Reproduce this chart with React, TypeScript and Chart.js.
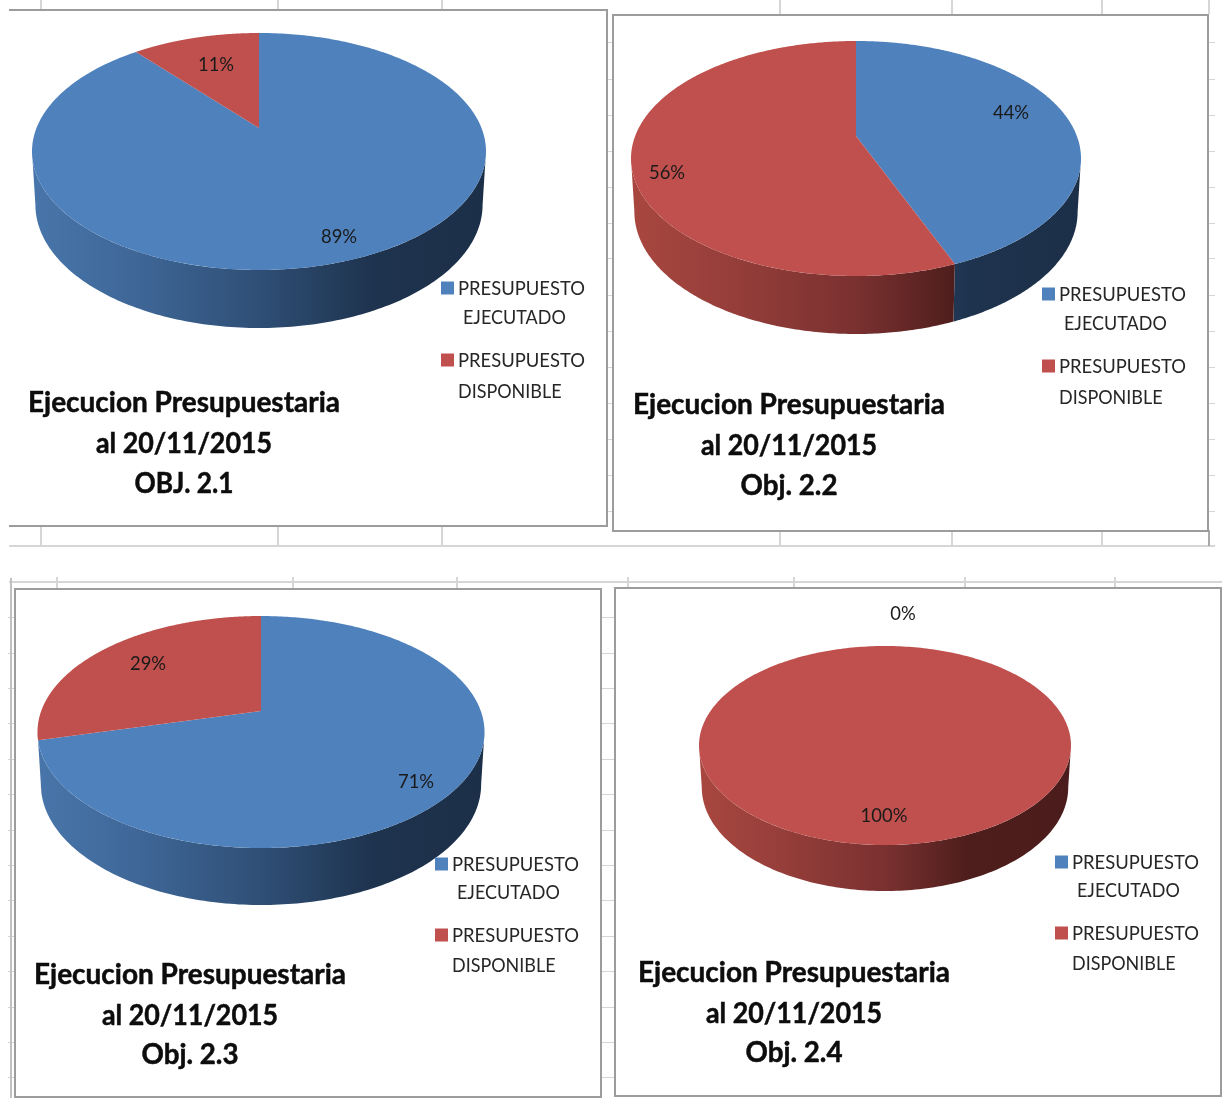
import { useEffect, useRef } from "react";
import { Chart, registerables } from "chart.js";

Chart.register(...registerables);

// Budget series: executed share, then available share
const categories = [
  ["PRESUPUESTO", "EJECUTADO"],
  ["PRESUPUESTO", "DISPONIBLE"],
];
const obj21 = [89, 11];
const obj22 = [44, 56];
const obj23 = [71, 29];
const obj24 = [0, 100];

const titleObj21 = ["Ejecucion Presupuestaria", "al 20/11/2015", "OBJ. 2.1"];
const titleObj22 = ["Ejecucion Presupuestaria", "al 20/11/2015", "Obj. 2.2"];
const titleObj23 = ["Ejecucion Presupuestaria", "al 20/11/2015", "Obj. 2.3"];
const titleObj24 = ["Ejecucion Presupuestaria", "al 20/11/2015", "Obj. 2.4"];

const BLUE = "#4f81bd";
const RED = "#c0504d";
const BLUE_WALL: [number, string][] = [[0, "#4875aa"], [0.2, "#40699a"], [0.5, "#2f4f76"], [0.75, "#1e334e"], [1, "#1c2f48"]];
const RED_WALL: [number, string][] = [[0, "#a8473f"], [0.2, "#983f3b"], [0.5, "#7a3130"], [0.72, "#4e1e1c"], [1, "#4a1c1b"]];

// Layout of one sheet panel, in page pixels
type Panel = {
  box: { left: number; top: number; width: number; height: number; openLeft?: boolean };
  values: number[];
  title: string[];
  apex: [number, number];
  topY: number;
  bottomY: number;
  half: number;
  wallBottom: number;
  labelAt: [number, number][];
  titleAt: [number, number[]];
  titleWidths: number[];
  legendX: number;
  legendRows: [number, number, number, number];
};

const panels: Panel[] = [
  {
    box: { left: 9, top: 9, width: 599, height: 518, openLeft: true },
    values: obj21, title: titleObj21,
    apex: [259, 128], topY: 33, bottomY: 270, half: 227, wallBottom: 328,
    labelAt: [[339, 236], [216, 64]],
    titleAt: [184, [402, 443, 483]],
    titleWidths: [312, 176, 99],
    legendX: 441, legendRows: [288, 317, 360, 391],
  },
  {
    box: { left: 612, top: 14, width: 597, height: 518 },
    values: obj22, title: titleObj22,
    apex: [856, 136], topY: 41, bottomY: 276, half: 225, wallBottom: 334,
    labelAt: [[1011, 112], [667, 172]],
    titleAt: [789, [404, 445, 485]],
    titleWidths: [312, 176, 97],
    legendX: 1042, legendRows: [294, 323, 366, 397],
  },
  {
    box: { left: 14, top: 588, width: 588, height: 510 },
    values: obj23, title: titleObj23,
    apex: [261, 711], topY: 616, bottomY: 848, half: 223.5, wallBottom: 905,
    labelAt: [[416, 781], [148, 663]],
    titleAt: [190, [974, 1015, 1054]],
    titleWidths: [312, 176, 97],
    legendX: 435, legendRows: [864, 892, 935, 965],
  },
  {
    box: { left: 614, top: 587, width: 608, height: 510 },
    values: obj24, title: titleObj24,
    apex: [885, 726], topY: 646, bottomY: 845, half: 186, wallBottom: 891,
    labelAt: [[903, 613], [884, 815]],
    titleAt: [794, [972, 1013, 1052]],
    titleWidths: [312, 176, 97],
    legendX: 1055, legendRows: [862, 890, 933, 963],
  },
];

// Spreadsheet cell lines showing around the panels
const colTicksUpper = [40, 277, 441, 779, 951, 1101];
const colTicksLower = [56, 292, 456, 627, 793, 964, 1114];
const rowsUpper = [42, 79, 115, 151, 187, 223, 258, 295, 331, 367, 403, 439, 475, 511];
const rowsLower = [617, 653, 688, 723, 759, 794, 830, 865, 900, 936, 971, 1007, 1042, 1077];

const GRID = "#d6d6d6";
const GRID_DARK = "#a8a8a8";

type Seg = [number, number, number, number, string];
const gridSegments: Seg[] = [
  [9, 545, 1206, 2, GRID],
  [9, 581, 1213, 2, GRID],
  ...colTicksUpper.map((x): Seg => [x, 0, 2, 14, GRID]),
  ...colTicksUpper.map((x): Seg => [x, 526, 2, 20, GRID]),
  ...colTicksLower.map((x): Seg => [x, 577, 2, 11, GRID]),
  ...rowsUpper.map((y): Seg => [607, y, 6, 1, GRID]),
  ...rowsUpper.map((y): Seg => [1209, y, 6, 1, GRID]),
  ...rowsLower.map((y): Seg => [8, y, 6, 1, GRID]),
  ...rowsLower.map((y): Seg => [601, y, 14, 1, GRID]),
  [1208, 0, 2, 14, GRID],
  [1208, 530, 2, 16, GRID_DARK],
  [10, 578, 2, 520, "#c0c0c0"],
];

// Perspective projection of the unit disc onto the slanted pie top
function makeProjection(p: Panel) {
  const [ax, ay] = p.apex;
  const dt = ay - p.topY;
  const db = p.bottomY - ay;
  const k = (db - dt) / (db + dt);
  const s = dt * (1 + k);
  const r = p.half * Math.sqrt(1 - k * k);
  const mx = 0.985;
  const my = 1.04;
  const drop = p.wallBottom - ay - my * db;
  const top = (t: number): [number, number] => {
    const u = Math.cos(t);
    const v = Math.sin(t);
    const w = 1 - k * v;
    return [ax + (r * u) / w, ay + (s * v) / w];
  };
  const bottom = (t: number): [number, number] => {
    const u = Math.cos(t);
    const v = Math.sin(t);
    const w = 1 - k * v;
    return [ax + (mx * r * u) / w, ay + drop + (my * s * v) / w];
  };
  return { k, top, bottom };
}

function fittedText(ctx: CanvasRenderingContext2D, text: string, x: number, y: number, sx: number, align: CanvasTextAlign, heavy = 0) {
  ctx.save();
  ctx.translate(x, y + 1);
  ctx.scale(sx, 1);
  ctx.textAlign = align;
  ctx.textBaseline = "middle";
  ctx.fillText(text, 0, 0);
  if (heavy > 0) {
    ctx.lineWidth = heavy;
    ctx.strokeStyle = ctx.fillStyle;
    ctx.strokeText(text, 0, 0);
  }
  ctx.restore();
}

// Draws the slanted pie, its rim, the labels, the legend and the heading from the arc elements
const solidPie = {
  id: "solidPie",
  beforeDatasetsDraw(chart: any, _args: any, opts: any) {
    const p: Panel = opts.panel;
    const ctx: CanvasRenderingContext2D = chart.ctx;
    const meta = chart.getDatasetMeta(0);
    const proj = makeProjection(p);
    const colors: string[] = chart.data.datasets[0].backgroundColor;
    const steps = 160;
    const frontFrom = Math.asin(proj.k);
    const frontTo = Math.PI - frontFrom;

    ctx.save();
    ctx.translate(-p.box.left, -p.box.top);

    // Rim, only along the front of the pie
    meta.data.forEach((arc: any, i: number) => {
      if (arc.circumference <= 0) return;
      const lo = Math.max(arc.startAngle, frontFrom);
      const hi = Math.min(arc.endAngle, frontTo);
      if (hi <= lo) return;
      const grad = ctx.createLinearGradient(p.apex[0] - p.half, 0, p.apex[0] + p.half, 0);
      (colors[i] === BLUE ? BLUE_WALL : RED_WALL).forEach(([o, c]) => grad.addColorStop(o, c));
      ctx.beginPath();
      for (let n = 0; n <= steps; n++) {
        const [x, y] = proj.top(lo + ((hi - lo) * n) / steps);
        if (n === 0) ctx.moveTo(x, y);
        else ctx.lineTo(x, y);
      }
      for (let n = steps; n >= 0; n--) {
        const [x, y] = proj.bottom(lo + ((hi - lo) * n) / steps);
        ctx.lineTo(x, y);
      }
      ctx.closePath();
      ctx.fillStyle = grad;
      ctx.fill();
    });

    // Top face of every slice
    meta.data.forEach((arc: any, i: number) => {
      if (arc.circumference <= 0) return;
      ctx.beginPath();
      if (arc.circumference < Math.PI * 2 - 1e-6) ctx.moveTo(p.apex[0], p.apex[1]);
      for (let n = 0; n <= steps * 2; n++) {
        const [x, y] = proj.top(arc.startAngle + (arc.circumference * n) / (steps * 2));
        ctx.lineTo(x, y);
      }
      ctx.closePath();
      ctx.fillStyle = colors[i];
      ctx.fill();
    });

    // Percentage labels
    const values: number[] = chart.data.datasets[0].data;
    const total = values.reduce((a, b) => a + b, 0);
    ctx.fillStyle = "#1a1a1a";
    ctx.font = "400 20px Lato";
    values.forEach((v, i) => {
      const [x, y] = p.labelAt[i];
      fittedText(ctx, `${Math.round((v / total) * 100)}%`, x, y, 0.92, "center");
    });

    // Legend
    const lx = p.legendX;
    const textX = lx + 17;
    const labels: string[][] = chart.data.labels;
    ctx.font = "400 19px Lato";
    const legendScale = 127 / ctx.measureText("PRESUPUESTO").width;
    labels.forEach((lines, i) => {
      const rowA = p.legendRows[i * 2];
      const rowB = p.legendRows[i * 2 + 1];
      ctx.fillStyle = colors[i];
      ctx.fillRect(lx, rowA - 6.5, 13, 13);
      ctx.fillStyle = "#262626";
      fittedText(ctx, lines[0], textX, rowA, legendScale, "left");
      fittedText(ctx, lines[1], i === 0 ? textX + 5 : textX, rowB, legendScale * 0.975, "left");
    });

    // Heading
    ctx.fillStyle = "#0d0d0d";
    ctx.font = "700 28px Lato";
    p.title.forEach((line, i) => {
      const sx = p.titleWidths[i] / ctx.measureText(line).width;
      fittedText(ctx, line, p.titleAt[0], p.titleAt[1][i], sx, "center", 0.5);
    });

    ctx.restore();
    return false;
  },
};

function PiePanel({ panel }: { panel: Panel }) {
  const ref = useRef<HTMLCanvasElement>(null);
  useEffect(() => {
    const chart = new Chart(ref.current!, {
      type: "pie",
      data: {
        labels: categories,
        datasets: [{ data: panel.values, backgroundColor: [BLUE, RED], borderWidth: 0 }],
      },
      options: {
        animation: false,
        responsive: false,
        events: [],
        plugins: {
          legend: { display: false },
          tooltip: { enabled: false },
          solidPie: { panel },
        } as any,
      },
      plugins: [solidPie],
    } as any);
    return () => chart.destroy();
  }, [panel]);
  const { left, top, width, height, openLeft } = panel.box;
  return (
    <div
      style={{
        position: "absolute",
        left,
        top,
        width,
        height,
        boxSizing: "border-box",
        background: "#fff",
        borderStyle: "solid",
        borderColor: "#9c9c9c",
        borderWidth: openLeft ? "2px 2px 2px 0" : 2,
      }}
    >
      <canvas
        ref={ref}
        width={width}
        height={height}
        style={{ position: "absolute", left: openLeft ? 0 : -2, top: -2, width, height, display: "block" }}
      />
    </div>
  );
}

export default function App() {
  return (
    <div style={{ position: "absolute", left: 0, top: 0, width: 1222, height: 1098, overflow: "hidden", background: "#fff" }}>
      {gridSegments.map(([x, y, w, h, c], i) => (
        <div key={i} style={{ position: "absolute", left: x, top: y, width: w, height: h, background: c }} />
      ))}
      {panels.map((p, i) => (
        <PiePanel key={i} panel={p} />
      ))}
    </div>
  );
}
